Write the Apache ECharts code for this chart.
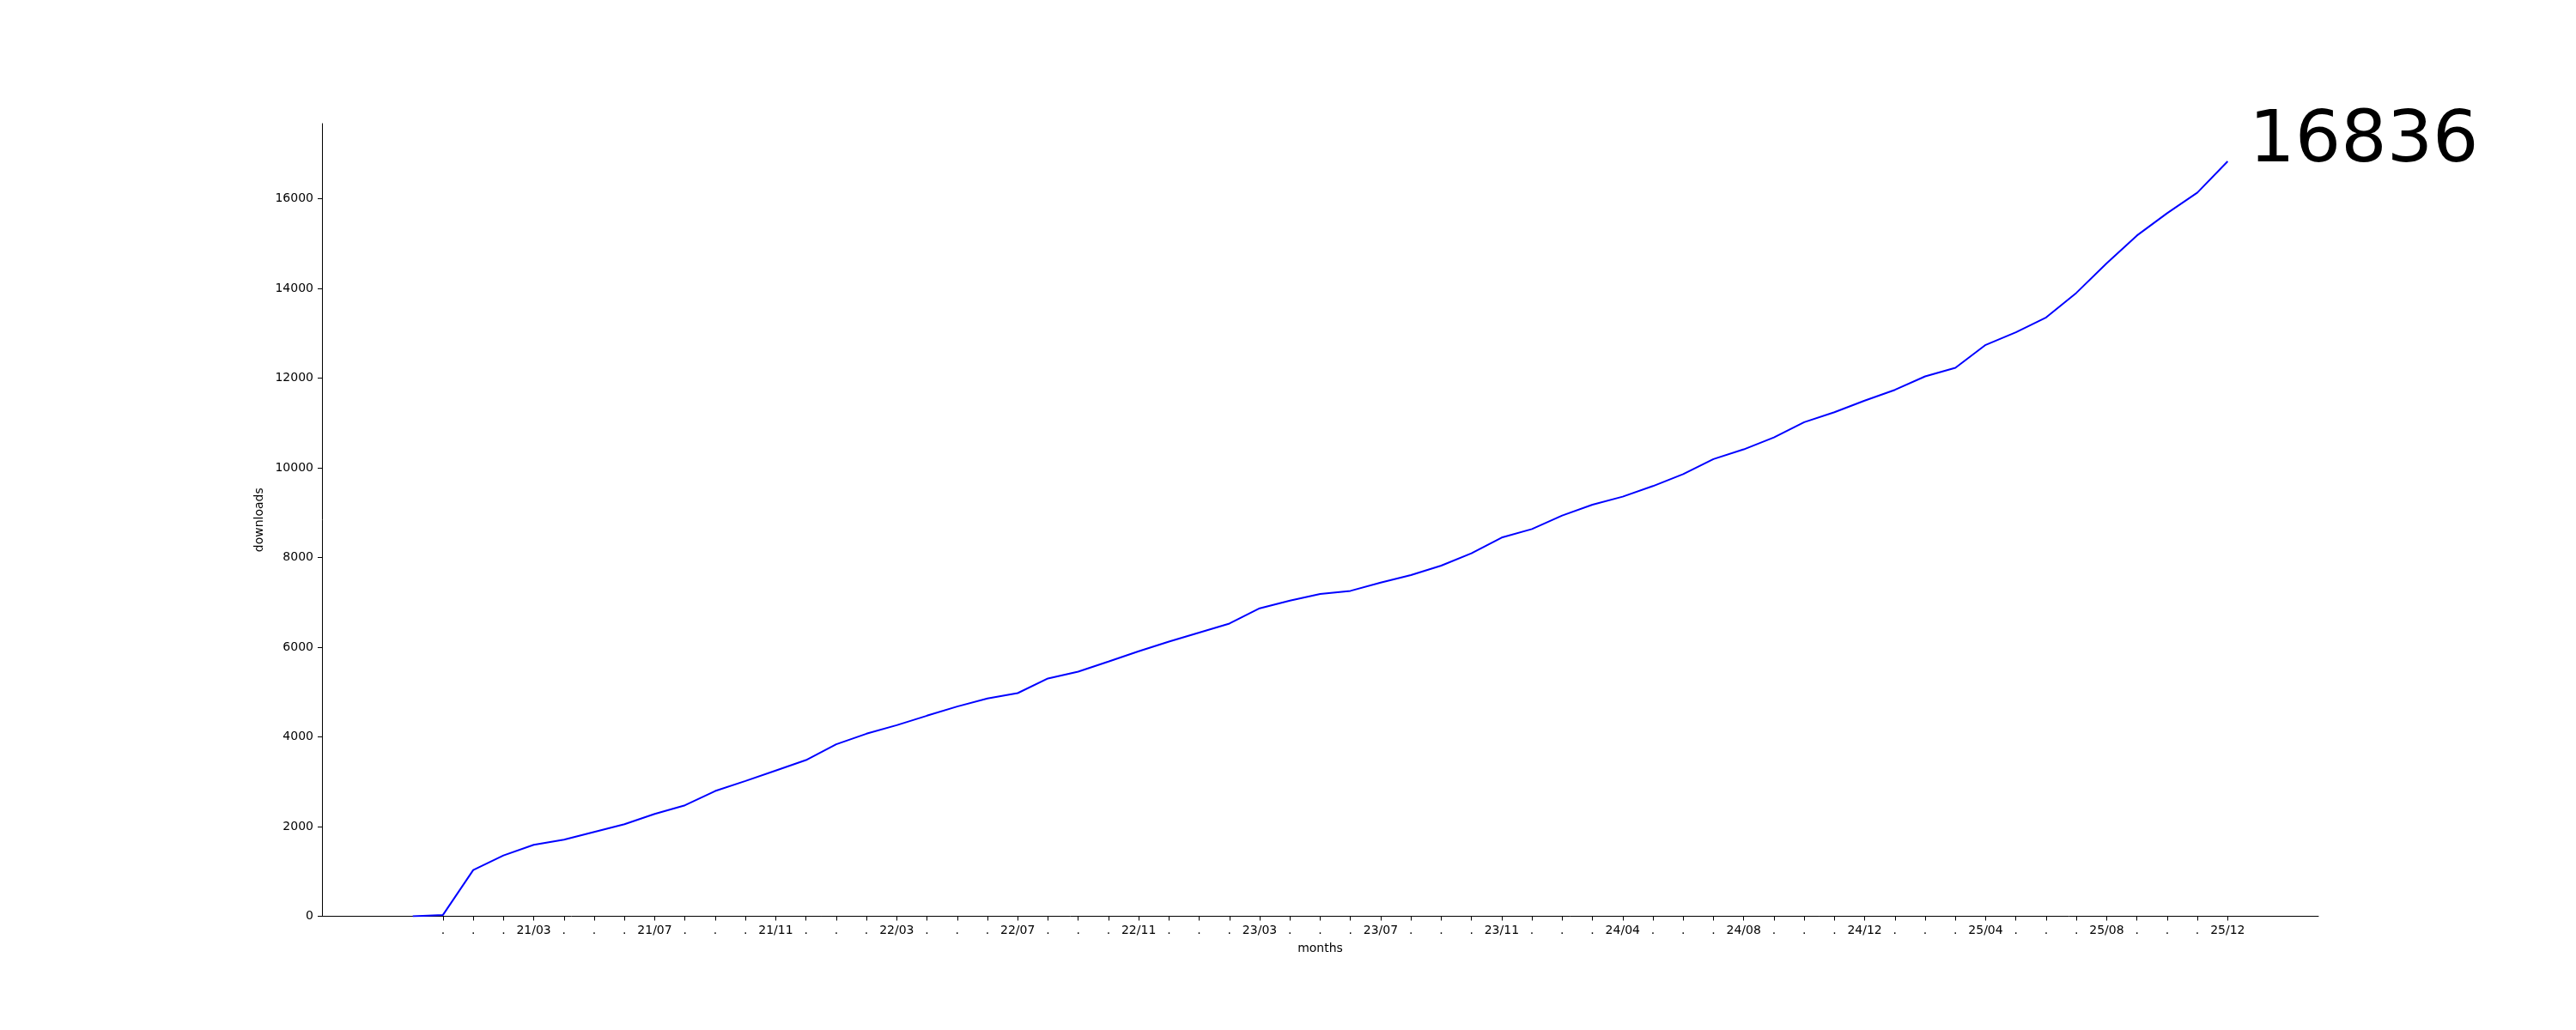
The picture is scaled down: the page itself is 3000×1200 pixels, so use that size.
<!DOCTYPE html>
<html>
<head>
<meta charset="utf-8">
<script src="https://cdn.jsdelivr.net/npm/echarts@6/dist/echarts.min.js"></script>
<style>
  html, body { margin: 0; padding: 0; background: #fff; }
  #main { width: 3000px; height: 1200px; }
</style>
</head>
<body>
<div id="main"></div>
<script>
// cumulative downloads, one value per month (index 0 has no tick)
var downloads = [
  0, 30, 1031, 1357, 1593, 1708, 1881, 2053, 2283, 2475,
  2794, 3017, 3250, 3483, 3835, 4071, 4262, 4473, 4678, 4856,
  4977, 5303, 5456, 5680, 5910, 6127, 6325, 6529, 6868, 7040,
  7187, 7257, 7442, 7609, 7820, 8094, 8445, 8636, 8937, 9179,
  9358, 9594, 9862, 10195, 10412, 10680, 11019, 11241, 11500, 11740,
  12041, 12233, 12743, 13023, 13356, 13904, 14563, 15182, 15680, 16140,
  16836
]

// tick labels under the x axis, same index as downloads
var tickLabels = [
  '', '.', '.', '.', '21/03', '.', '.', '.', '21/07', '.',
  '.', '.', '21/11', '.', '.', '.', '22/03', '.', '.', '.',
  '22/07', '.', '.', '.', '22/11', '.', '.', '.', '23/03', '.',
  '.', '.', '23/07', '.', '.', '.', '23/11', '.', '.', '.',
  '24/04', '.', '.', '.', '24/08', '.', '.', '.', '24/12', '.',
  '.', '.', '25/04', '.', '.', '.', '25/08', '.', '.', '.',
  '25/12'
]

var yTicks = [0, 2000, 4000, 6000, 8000, 10000, 12000, 14000, 16000]

var xTicks = []
for (var i = 1; i < tickLabels.length; i++) xTicks.push(i)

var points = downloads.map(function (v, i) { return [i, v] })

var font = 'DejaVu Sans'
var myChart = echarts.init(document.getElementById('main'), null, { renderer: 'canvas' })

var option = {
  animation: false,
  backgroundColor: '#fff',
  grid: { left: 375, right: 300, top: 144, bottom: 132.5 },
  xAxis: {
    type: 'value',
    min: -3,
    max: 63,
    name: 'months',
    nameLocation: 'middle',
    nameGap: 31,
    nameTextStyle: { fontFamily: font, fontSize: 14, color: '#000' },
    splitLine: { show: false },
    axisLine: { onZero: false, lineStyle: { color: '#000', width: 1 } },
    axisTick: { customValues: xTicks, length: 5, lineStyle: { color: '#000', width: 1 } },
    axisLabel: {
      customValues: xTicks,
      margin: 10,
      fontFamily: font,
      fontSize: 14,
      color: '#000',
      formatter: function (v) { return tickLabels[v] }
    }
  },
  yAxis: {
    type: 'value',
    min: 0,
    max: 17678,
    name: 'downloads',
    nameLocation: 'middle',
    nameGap: 60,
    nameRotate: 90,
    nameTextStyle: { fontFamily: font, fontSize: 14, color: '#000' },
    splitLine: { show: false },
    axisLine: { show: true, onZero: false, lineStyle: { color: '#000', width: 1 } },
    axisTick: { show: true, customValues: yTicks, length: 5, lineStyle: { color: '#000', width: 1 } },
    axisLabel: {
      customValues: yTicks,
      margin: 10,
      fontFamily: font,
      fontSize: 14,
      color: '#000',
      formatter: function (v) { return String(v) }
    }
  },
  series: [
    {
      type: 'line',
      data: points,
      showSymbol: false,
      lineStyle: { color: '#0000ff', width: 2 },
      itemStyle: { color: '#0000ff' },
      endLabel: {
        show: true,
        formatter: function (p) { return String(p.value[1]) },
        fontFamily: font,
        fontSize: 84,
        color: '#000',
        align: 'left',
        verticalAlign: 'middle',
        distance: 0,
        offset: [25, -22]
      }
    }
  ]
}
myChart.setOption(option)
</script>
</body>
</html>
